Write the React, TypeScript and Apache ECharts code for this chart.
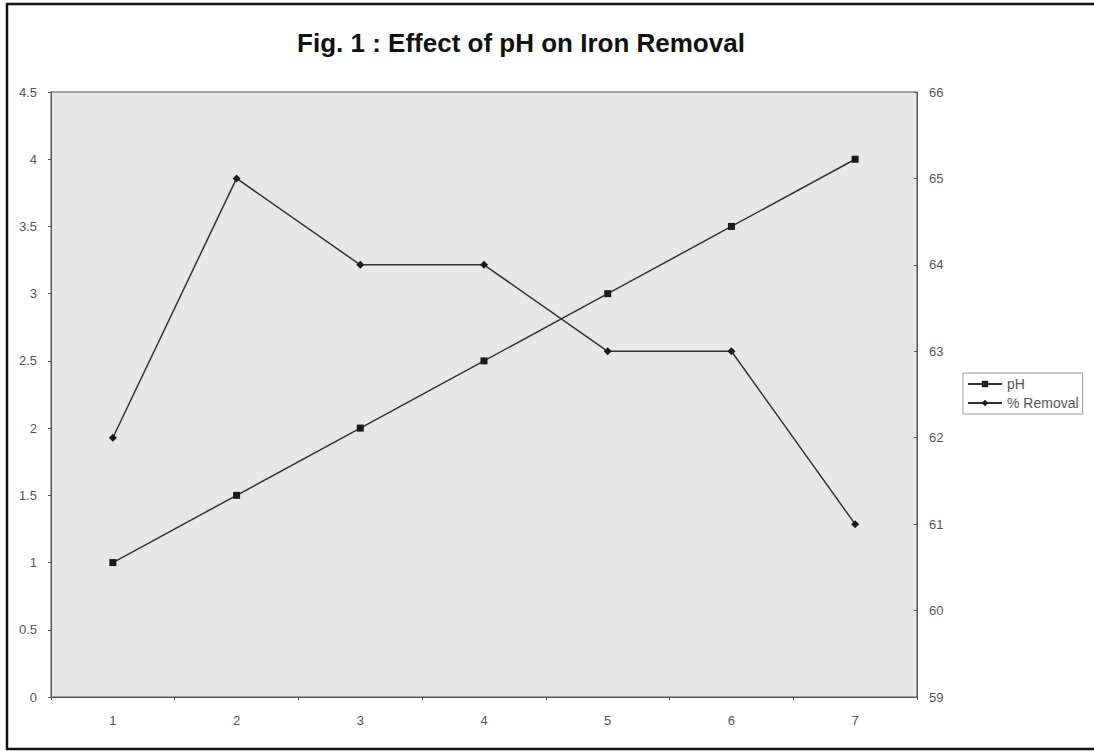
import React, { useEffect, useRef } from "react";
import * as echarts from "echarts";

const categories = ["1", "2", "3", "4", "5", "6", "7"];
const phValues = [1, 1.5, 2, 2.5, 3, 3.5, 4];
const removalValues = [62, 65, 64, 64, 63, 63, 61];

export default function App() {
  const ref = useRef<HTMLDivElement>(null);
  useEffect(() => {
    document.body.style.margin = "0";
    const chart = echarts.init(ref.current!, null, { renderer: "svg" });
    const font = "'Liberation Sans', Arial, sans-serif";
    chart.setOption({
      animation: false,
      backgroundColor: "#ffffff",
      textStyle: { fontFamily: font },
      graphic: [
        {
          type: "rect",
          shape: { x: 7, y: 4, width: 1100, height: 745 },
          style: { fill: "none", stroke: "#111", lineWidth: 2.5 },
          silent: true,
        },
        {
          type: "text",
          x: 521,
          y: 43,
          style: {
            text: "Fig. 1 : Effect of pH on Iron Removal",
            fontFamily: font,
            fontWeight: "bold",
            fontSize: 26,
            fill: "#111",
            textAlign: "center",
            textVerticalAlign: "middle",
          },
        },
      ],
      legend: {
        orient: "vertical",
        left: 963,
        top: 373,
        itemWidth: 34,
        itemHeight: 8,
        itemGap: 5,
        padding: [4, 4, 4, 4],
        borderColor: "#999",
        borderWidth: 1,
        textStyle: { fontSize: 14, color: "#555", fontFamily: font },
        data: ["pH", "% Removal"],
      },
      grid: {
        left: 51,
        right: 177,
        top: 92,
        bottom: 54,
        show: true,
        backgroundColor: "#e7e7e7",
        borderColor: "#555",
        borderWidth: 1,
      },
      xAxis: {
        type: "category",
        data: categories,
        boundaryGap: true,
        axisLine: { lineStyle: { color: "#555", width: 1 } },
        axisTick: { show: true, length: 3, lineStyle: { color: "#555" } },
        axisLabel: { fontSize: 13, color: "#555", margin: 17 },
        splitLine: { show: false },
      },
      yAxis: [
        {
          type: "value",
          min: 0,
          max: 4.5,
          interval: 0.5,
          axisLine: { show: true, lineStyle: { color: "#555", width: 1 } },
          axisTick: { show: true, length: 3, lineStyle: { color: "#555" } },
          axisLabel: { fontSize: 13, color: "#555", margin: 14 },
          splitLine: { show: false },
        },
        {
          type: "value",
          min: 59,
          max: 66,
          interval: 1,
          position: "right",
          axisLine: { show: true, lineStyle: { color: "#555", width: 1 } },
          axisTick: { show: true, length: 3, inside: true, lineStyle: { color: "#555" } },
          axisLabel: { fontSize: 13, color: "#555", margin: 12 },
          splitLine: { show: false },
        },
      ],
      series: [
        {
          name: "pH",
          type: "line",
          yAxisIndex: 0,
          data: phValues,
          symbol: "rect",
          symbolSize: 7,
          itemStyle: { color: "#1a1a1a" },
          lineStyle: { color: "#333", width: 1.5 },
        },
        {
          name: "% Removal",
          type: "line",
          yAxisIndex: 1,
          data: removalValues,
          symbol: "diamond",
          symbolSize: 8,
          itemStyle: { color: "#1a1a1a" },
          lineStyle: { color: "#333", width: 1.5 },
        },
      ],
    });
    return () => chart.dispose();
  }, []);
  return <div ref={ref} style={{ width: 1094, height: 751 }} />;
}
